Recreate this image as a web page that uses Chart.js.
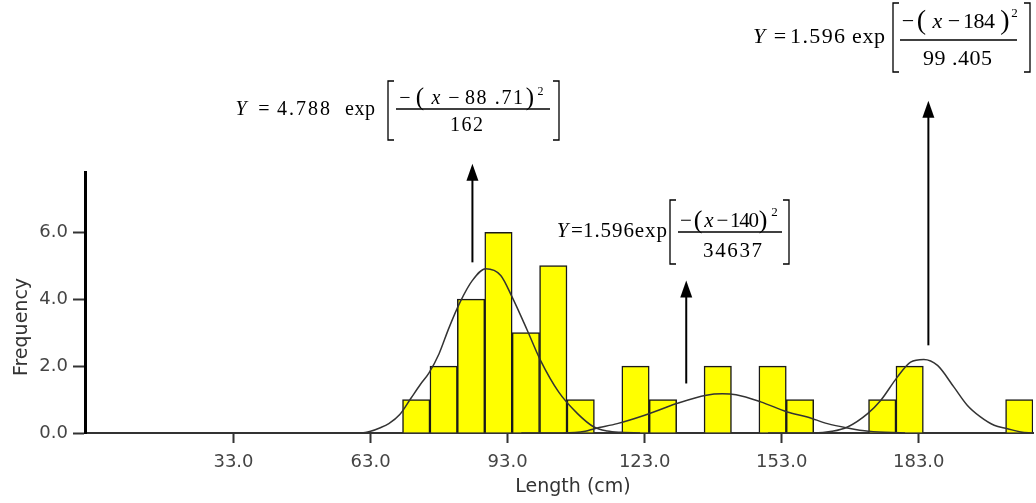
<!DOCTYPE html>
<html>
<head>
<meta charset="utf-8">
<script src="https://cdn.jsdelivr.net/npm/chart.js@4.4.0/dist/chart.umd.min.js"></script>
<style>
  html, body { margin: 0; padding: 0; background: #fff; }
  #wrap { width: 1036px; height: 503px; }
</style>
</head>
<body>
<div id="wrap"><canvas id="chart" width="1036" height="503"></canvas></div>
<script>
// histogram bins (bin centres in cm, 6 cm wide) and counts
const binCentres = [73, 79, 85, 91, 97, 103, 109, 115, 121, 127, 133, 139, 145, 151, 157, 163, 169, 175, 181, 187, 193, 199, 205];
const binCounts  = [1, 2, 4, 6, 3, 5, 1, 0, 2, 1, 0, 2, 0, 2, 1, 0, 0, 1, 2, 0, 0, 0, 1];

const xTicks = [33, 63, 93, 123, 153, 183];
const yTicks = [0, 2, 4, 6];

// fitted normal curves
const fit1X = [55, 61, 63, 65, 67, 69.4, 71.8, 73.9, 75.8, 78, 80.1, 82.6, 85.3, 88.2, 91.5, 94, 97.3, 100.2, 104.2, 108.3, 111.9, 114.8, 118, 122];
const fit1Y = [0, 0, 0.05, 0.15, 0.28, 0.55, 1.03, 1.45, 1.8, 2.37, 3.12, 3.91, 4.56, 4.91, 4.71, 4.06, 3.07, 2.17, 1.22, 0.58, 0.18, 0.06, 0.02, 0];
const fit2X = [96, 105, 110, 112, 117, 123, 130, 136.5, 140, 143, 148.4, 154.2, 158.6, 163, 167.4, 172, 180];
const fit2Y = [0, 0, 0.05, 0.13, 0.28, 0.53, 0.88, 1.13, 1.17, 1.14, 0.93, 0.63, 0.48, 0.28, 0.15, 0.05, 0];
const fit3X = [150, 160, 164, 167.4, 171.8, 174.7, 178.3, 181.2, 184.1, 187.1, 190.7, 193.6, 196.5, 199.5, 202.4, 205.3, 208];
const fit3Y = [0, 0, 0.05, 0.18, 0.58, 0.98, 1.67, 2.12, 2.2, 2.02, 1.37, 0.83, 0.48, 0.23, 0.13, 0.03, 0];

// arrows pointing from each peak to its equation
const arrowX    = [85.3, 132.1, 185.1];
const arrowFrom = [5.1, 1.48, 2.62];
const arrowTo   = [8.05, 4.56, 9.93];

const SERIF = '"Liberation Serif", "Times New Roman", serif';
const SANS = '"DejaVu Sans", Verdana, sans-serif';

// equation layout: [text, left, right, baseline, style]  (i = italic, s = superscript, p = tall paren)
const FORMULAS = [
  { size: 20, line: [396, 550, 109], brackets: [388, 559, 81, 140], pieces: [
    ["Y", 235, 247, 115, "i"], ["=", 258, 270, 115], ["4.788", 277, 330, 115], ["exp", 345, 375, 115],
    ["\u2212", 400, 410, 104], ["(", 416, 424, 105, "p"], ["x", 430, 442, 104, "i"], ["\u2212", 448, 460, 104],
    ["88 .71", 465, 523, 104], [")", 526, 534, 105, "p"], ["2", 538, 543, 95, "s"], ["162", 450, 483, 131]] },
  { size: 21, line: [678, 782, 232], brackets: [670, 789, 200, 264], pieces: [
    ["Y", 557, 568, 237, "i"], ["=", 572, 582, 237], ["1.596exp", 583, 667, 237],
    ["\u2212", 680, 692, 227], ["(", 694, 702, 228, "p"], ["x", 703, 715, 227, "i"], ["\u2212", 717, 728, 227],
    ["140", 730, 759, 227], [")", 759, 767, 228, "p"], ["2", 772, 777, 216, "s"], ["34637", 703, 762, 257]] },
  { size: 22, line: [900, 1017, 40], brackets: [893, 1030, 3, 72], pieces: [
    ["Y", 753, 765, 43, "i"], ["=", 773, 787, 43], ["1.596", 790, 845, 43], ["exp", 852, 885, 43],
    ["\u2212", 903, 913, 28], ["(", 917, 926, 29, "p"], ["x", 932, 943, 28, "i"], ["\u2212", 948, 960, 28],
    ["184", 963, 995, 28], [")", 1001, 1009, 29, "p"], ["2", 1012, 1017, 17, "s"], ["99 .405", 923, 992, 65]] },
];

function spread(ctx, text, x0, x1, base) {
  const chars = [...text];
  if (chars.length === 1) {
    ctx.textAlign = "center";
    ctx.fillText(text, (x0 + x1) / 2, base);
    return;
  }
  ctx.textAlign = "left";
  const widths = chars.map((c) => ctx.measureText(c).width);
  const total = widths.reduce((a, b) => a + b, 0);
  const gap = (x1 - x0 - total) / (chars.length - 1);
  let x = x0;
  chars.forEach((c, i) => {
    ctx.fillText(c, x, base);
    x += widths[i] + gap;
  });
}

function bracket(ctx, x, top, bot, dir) {
  const w = 6;
  ctx.beginPath();
  ctx.moveTo(x + dir * w, top);
  ctx.lineTo(x, top);
  ctx.lineTo(x, bot);
  ctx.lineTo(x + dir * w, bot);
  ctx.stroke();
}

const annotations = {
  id: "annotations",
  afterDraw(chart) {
    const { ctx } = chart;
    const xs = chart.scales.x, ys = chart.scales.y;
    ctx.save();
    ctx.fillStyle = "#000";
    ctx.strokeStyle = "#000";

    // arrows
    ctx.lineWidth = 2;
    arrowX.forEach((v, i) => {
      const px = xs.getPixelForValue(v);
      const y0 = ys.getPixelForValue(arrowFrom[i]);
      const y1 = ys.getPixelForValue(arrowTo[i]);
      ctx.beginPath();
      ctx.moveTo(px, y0);
      ctx.lineTo(px, y1 + 14);
      ctx.stroke();
      ctx.beginPath();
      ctx.moveTo(px, y1);
      ctx.lineTo(px - 6, y1 + 17);
      ctx.lineTo(px + 6, y1 + 17);
      ctx.closePath();
      ctx.fill();
    });

    // equations
    ctx.textBaseline = "alphabetic";
    FORMULAS.forEach((f) => {
      f.pieces.forEach(([t, x0, x1, base, style]) => {
        let size = f.size;
        if (style === "s") size = Math.round(f.size * 0.6);
        if (style === "p") size = Math.round(f.size * 1.25);
        ctx.font = (style === "i" ? "italic " : "") + size + "px " + SERIF;
        spread(ctx, t, x0, x1, base);
      });
      ctx.lineWidth = 1.3;
      ctx.beginPath();
      ctx.moveTo(f.line[0], f.line[2]);
      ctx.lineTo(f.line[1], f.line[2]);
      ctx.stroke();
      const [bl, br, bt, bb] = f.brackets;
      bracket(ctx, bl, bt, bb, 1);
      bracket(ctx, br, bt, bb, -1);
    });

    // axis titles
    ctx.fillStyle = "#333";
    ctx.font = "19px " + SANS;
    ctx.textAlign = "center";
    ctx.textBaseline = "middle";
    ctx.fillText("Length (cm)", 573, 487);
    ctx.translate(22, 327);
    ctx.rotate(-Math.PI / 2);
    ctx.fillText("Frequency", 0, 0);
    ctx.restore();
  },
};

const curveStyle = {
  type: "line",
  borderColor: "#333",
  borderWidth: 1.5,
  pointRadius: 0,
  fill: false,
  tension: 0.4,
  cubicInterpolationMode: "monotone",
  order: 1,
};

new Chart(document.getElementById("chart"), {
  type: "bar",
  data: {
    datasets: [
      {
        type: "bar",
        label: "Frequency",
        data: binCentres.map((c, i) => ({ x: c, y: binCounts[i] || null })),
        backgroundColor: "#ffff00",
        borderColor: "#1a1a1a",
        borderWidth: 1.5,
        barPercentage: 1,
        categoryPercentage: 1,
        order: 2,
      },
      { ...curveStyle, label: "Fit 1", data: fit1X.map((x, i) => ({ x, y: fit1Y[i] })) },
      { ...curveStyle, label: "Fit 2", data: fit2X.map((x, i) => ({ x, y: fit2Y[i] })) },
      { ...curveStyle, label: "Fit 3", data: fit3X.map((x, i) => ({ x, y: fit3Y[i] })) },
    ],
  },
  options: {
    responsive: false,
    animation: false,
    layout: { padding: { top: 172, right: 3, left: 0, bottom: 0 } },
    plugins: { legend: { display: false }, tooltip: { enabled: false } },
    scales: {
      x: {
        type: "linear",
        min: 0.5,
        max: 208,
        offset: false,
        afterBuildTicks: (s) => { s.ticks = xTicks.map((v) => ({ value: v })); },
        afterFit: (s) => { s.height = 70; },
        grid: { offset: false, drawOnChartArea: false, tickLength: 10, tickWidth: 2, tickColor: "#333" },
        border: { color: "#333", width: 2 },
        ticks: {
          callback: (v) => Number(v).toFixed(1),
          font: { family: SANS, size: 18 },
          color: "#444",
          padding: 9,
          maxRotation: 0,
          autoSkip: false,
        },
      },
      y: {
        min: 0,
        max: 7.8,
        afterBuildTicks: (s) => { s.ticks = yTicks.map((v) => ({ value: v })); },
        afterFit: (s) => { s.width = 85; },
        grid: { drawOnChartArea: false, tickLength: 12, tickWidth: 2, tickColor: "#333" },
        border: { color: "#000", width: 3 },
        ticks: {
          callback: (v) => Number(v).toFixed(1),
          font: { family: SANS, size: 18 },
          color: "#444",
          padding: 5,
        },
      },
    },
  },
  plugins: [annotations],
});
</script>
</body>
</html>
